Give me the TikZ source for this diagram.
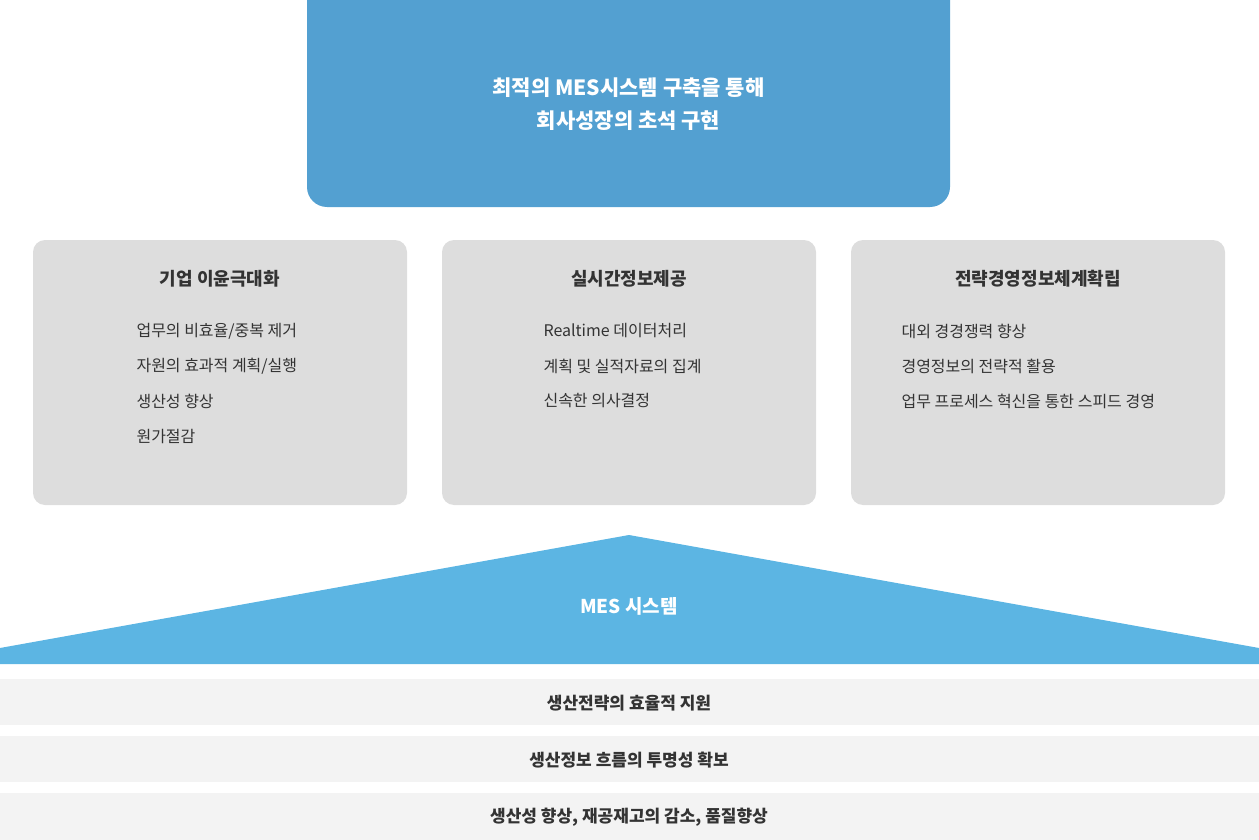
\documentclass[tikz,border=0pt]{standalone}
\usepackage{fontspec}
\setmainfont{Noto Sans CJK KR}
\begin{document}
\begin{tikzpicture}[x=1pt,y=-1pt,
  card/.style={fill=cardgray,rounded corners=12pt,draw=none},
  head/.style={font=\fontsize{18}{22}\selectfont\bfseries,text=txt,anchor=center},
  item/.style={font=\fontsize{16}{20}\selectfont,text=txt,anchor=west},
  band/.style={fill=bandgray,draw=none},
  bandtxt/.style={font=\fontsize{17}{21}\selectfont\bfseries,text=txt,anchor=center}]
\definecolor{topblue}{HTML}{53A0D1}
\definecolor{triblue}{HTML}{5CB5E3}
\definecolor{cardgray}{HTML}{DDDDDD}
\definecolor{bandgray}{HTML}{F3F3F3}
\definecolor{txt}{HTML}{333333}
\useasboundingbox (0,0) rectangle (1259,840);
\fill[topblue,rounded corners=20pt] (307,-30) rectangle (950,207);
\node[font=\fontsize{21}{33}\selectfont\bfseries,text=white,align=center] (top) at (628.5,104) {최적의 MES시스템 구축을 통해\\회사성장의 초석 구현};
\fill[card] (33,240) rectangle (407,505);
\fill[card] (442,240) rectangle (816,505);
\fill[card] (851,240) rectangle (1225,505);
\node[head] (h1) at (220,279) {기업 이윤극대화};
\node[head] (h2) at (629,279) {실시간정보제공};
\node[head] (h3) at (1038,279) {전략경영정보체계확립};
\node[item] (a1) at (133,331) {업무의 비효율/중복 제거};
\node[item] (a2) at (133,366) {자원의 효과적 계획/실행};
\node[item] (a3) at (133,401) {생산성 향상};
\node[item] (a4) at (133,436) {원가절감};
\node[item] (b1) at (540,331) {Realtime 데이터처리};
\node[item] (b2) at (540,366) {계획 및 실적자료의 집계};
\node[item] (b3) at (540,401) {신속한 의사결정};
\node[item] (c1) at (898,331) {대외 경경쟁력 향상};
\node[item] (c2) at (898,366) {경영정보의 전략적 활용};
\node[item] (c3) at (898,401) {업무 프로세스 혁신을 통한 스피드 경영};
\fill[triblue] (0,648) -- (629,535) -- (1259,648) -- (1259,664) -- (0,664) -- cycle;
\node[font=\fontsize{19}{23}\selectfont\bfseries,text=white] (mes) at (629,606) {MES 시스템};
\fill[band] (0,679) rectangle (1259,725);
\fill[band] (0,736) rectangle (1259,782);
\fill[band] (0,793) rectangle (1259,840);
\node[bandtxt] (d1) at (629,703) {생산전략의 효율적 지원};
\node[bandtxt] (d2) at (629,760) {생산정보 흐름의 투명성 확보};
\node[bandtxt] (d3) at (629,817) {생산성 향상, 재공재고의 감소, 품질향상};
\end{tikzpicture}
\end{document}
